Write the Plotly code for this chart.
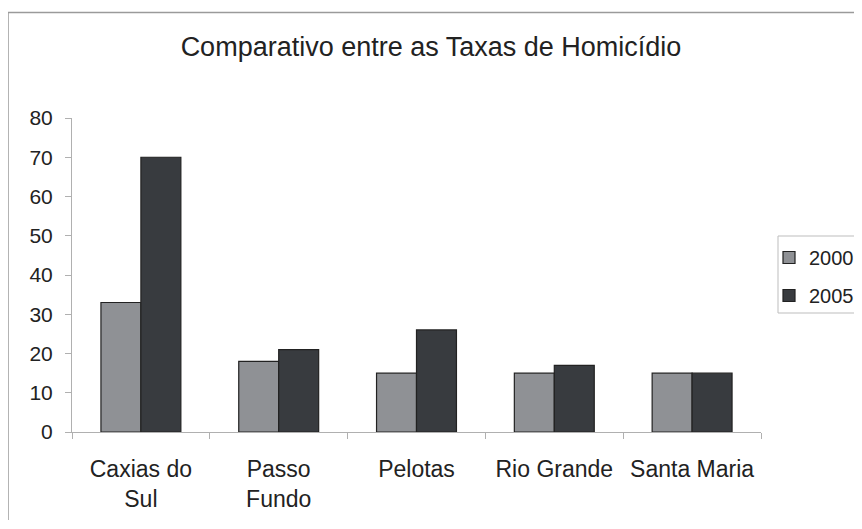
import plotly.graph_objects as go

categories = ["Caxias do<br>Sul", "Passo<br>Fundo", "Pelotas", "Rio Grande", "Santa Maria"]
series_2000 = [33, 18, 15, 15, 15]
series_2005 = [70, 21, 26, 17, 15]
y_ticks = [0, 10, 20, 30, 40, 50, 60, 70, 80]

FONT = "Liberation Sans, Arial, sans-serif"
OFF = 8  # page body margin
W, H = 862 - OFF, 529 - 2 * OFF - 1
L, R, T, B = 72 - OFF, 761 - OFF, 118 - OFF, 432 - OFF  # plot area (figure px)

def px_x(p):
    return (p - OFF - L) / (R - L)

def px_y(p):
    return (B - (p - OFF)) / (B - T)

fig = go.Figure()
fig.add_trace(go.Bar(name="2000", x=categories, y=series_2000, legendgroup="a",
                     marker=dict(color="#8f9195", line=dict(color="#222222", width=1.2))))
fig.add_trace(go.Bar(name="2005", x=categories, y=series_2005, legendgroup="b",
                     marker=dict(color="#383b3f", line=dict(color="#222222", width=1.2))))

fig.update_layout(
    width=W, height=H,
    margin=dict(l=L, r=W - R, t=T, b=H - B, autoexpand=False),
    paper_bgcolor="white", plot_bgcolor="white",
    font=dict(family=FONT, color="#222222", size=20),
    barmode="group", bargap=0.42, bargroupgap=0,
    title=dict(text="Comparativo entre as Taxas de Homicídio",
               x=(431 - OFF) / W, xref="container", xanchor="center",
               y=1 - (47 - OFF) / H, yanchor="middle", yref="container",
               font=dict(size=27, family=FONT, color="#222222")),
    legend=dict(x=px_x(769), y=px_y(238), xanchor="left", yanchor="top",
                borderwidth=0, bgcolor="rgba(0,0,0,0)",
                font=dict(size=20, family=FONT, color="#222222"),
                tracegroupgap=9, itemwidth=30),
    xaxis=dict(showline=True, linecolor="#b0b0b0", linewidth=1,
               ticks="outside", tickson="boundaries", ticklen=6, tickcolor="#b0b0b0",
               showgrid=False, zeroline=False, range=[-0.5, 4.5],
               ticklabelstandoff=16,
               tickfont=dict(size=23, family=FONT, color="#222222")),
    yaxis=dict(showline=True, linecolor="#b0b0b0", linewidth=1,
               ticks="outside", ticklen=6, tickcolor="#b0b0b0",
               tickvals=y_ticks, range=[0, 80], showgrid=False, zeroline=False,
               ticklabelstandoff=8,
               tickfont=dict(size=21, family=FONT, color="#222222")),
    shapes=[
        dict(type="rect", xref="paper", yref="paper",
             x0=px_x(8), x1=px_x(880), y0=px_y(560), y1=px_y(12.5),
             line=dict(color="#9a9a9a", width=1.5), layer="below"),
        dict(type="rect", xref="paper", yref="paper",
             x0=px_x(778), x1=px_x(900), y0=px_y(313), y1=px_y(236),
             line=dict(color="#bdbdbd", width=1), fillcolor="white", layer="below"),
    ],
)

fig.write_html("out.html")
